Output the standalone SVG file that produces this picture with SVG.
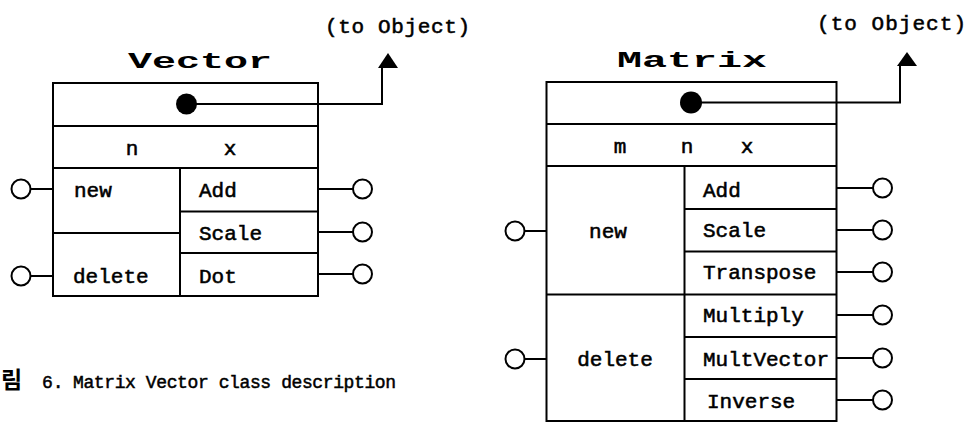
<svg xmlns="http://www.w3.org/2000/svg" width="972" height="423" viewBox="0 0 972 423">
  <style>
    .box { fill: none; stroke: #000; stroke-width: 2; }
    .ln { fill: none; stroke: #000; stroke-width: 2; }
    .port { fill: #fff; stroke: #000; stroke-width: 2; }
    .dot { fill: #000; }
    .arr { fill: #000; }
    .t { font-family: "Liberation Mono", "Noto Sans CJK KR", monospace; font-size: 21px; fill: #000; stroke: #000; stroke-width: 0.55; }
    .title { font-family: "Liberation Mono", monospace; font-size: 22px; font-weight: bold; fill: #000; }
    .cap { font-family: "Liberation Mono", "Noto Sans CJK KR", monospace; font-size: 18px; fill: #000; stroke: #000; stroke-width: 0.5; }
    .capk { font-family: "Noto Sans CJK KR", sans-serif; font-size: 23px; font-weight: bold; fill: #000; }
  </style>

  <!-- Vector class -->
  <g id="vector">
    <text class="title" x="128" y="68" textLength="144" lengthAdjust="spacingAndGlyphs">Vector</text>
    <rect class="box" x="53" y="83" width="265" height="213"/>
    <line class="ln" x1="53" y1="126" x2="318" y2="126"/>
    <line class="ln" x1="53" y1="168" x2="318" y2="168"/>
    <line class="ln" x1="180" y1="168" x2="180" y2="296"/>
    <line class="ln" x1="180" y1="211.5" x2="318" y2="211.5"/>
    <line class="ln" x1="180" y1="253" x2="318" y2="253"/>
    <line class="ln" x1="53" y1="233" x2="180" y2="233"/>
    <circle class="dot" cx="186.5" cy="104" r="10.5"/>
    <text class="t" x="132" y="155" text-anchor="middle">n</text>
    <text class="t" x="230" y="155" text-anchor="middle">x</text>
    <text class="t" x="74" y="197">new</text>
    <text class="t" x="73" y="283">delete</text>
    <text class="t" x="199" y="197">Add</text>
    <text class="t" x="199" y="240">Scale</text>
    <text class="t" x="199" y="283">Dot</text>
  </g>

  <!-- Matrix class -->
  <g id="matrix">
    <text class="title" x="617" y="67" textLength="150" lengthAdjust="spacingAndGlyphs">Matrix</text>
    <rect class="box" x="546.5" y="82" width="290" height="339"/>
    <line class="ln" x1="546.5" y1="124" x2="836.5" y2="124"/>
    <line class="ln" x1="546.5" y1="166" x2="836.5" y2="166"/>
    <line class="ln" x1="684.5" y1="166" x2="684.5" y2="421"/>
    <line class="ln" x1="684.5" y1="209" x2="836.5" y2="209"/>
    <line class="ln" x1="684.5" y1="251.5" x2="836.5" y2="251.5"/>
    <line class="ln" x1="546.5" y1="294.5" x2="836.5" y2="294.5"/>
    <line class="ln" x1="684.5" y1="337" x2="836.5" y2="337"/>
    <line class="ln" x1="684.5" y1="379" x2="836.5" y2="379"/>
    <circle class="dot" cx="691" cy="102.5" r="11"/>
    <text class="t" x="620" y="153" text-anchor="middle">m</text>
    <text class="t" x="687" y="153" text-anchor="middle">n</text>
    <text class="t" x="747" y="153" text-anchor="middle">x</text>
    <text class="t" x="608" y="238" text-anchor="middle">new</text>
    <text class="t" x="615" y="366" text-anchor="middle">delete</text>
    <text class="t" x="703" y="197">Add</text>
    <text class="t" x="703" y="237">Scale</text>
    <text class="t" x="703" y="279">Transpose</text>
    <text class="t" x="703" y="322">Multiply</text>
    <text class="t" x="703" y="366">MultVector</text>
    <text class="t" x="707" y="408">Inverse</text>
  </g>

  <!-- superclass labels -->
  <g id="vector-super">
    <text class="t" x="325" y="33" textLength="145">(to Object)</text>
    <polygon class="arr" points="378,68 398,68 388,53"/>
  </g>
  <g id="matrix-super">
    <text class="t" x="817" y="30" textLength="149">(to Object)</text>
    <polygon class="arr" points="897,66 917,66 907,52"/>
  </g>

  <!-- connectors: superclass links and method ports -->
  <g id="connectors">
    <polyline class="ln" points="196,104 382,104 382,68"/>
    <polyline class="ln" points="701,102.5 900,102.5 900,66"/>

    <line class="ln" x1="31" y1="189" x2="53" y2="189"/>
    <circle class="port" cx="21" cy="189" r="9.5"/>
    <line class="ln" x1="31" y1="276" x2="53" y2="276"/>
    <circle class="port" cx="21" cy="276" r="9.5"/>

    <line class="ln" x1="318" y1="189" x2="353" y2="189"/>
    <circle class="port" cx="362.5" cy="189" r="9.5"/>
    <line class="ln" x1="318" y1="232" x2="353" y2="232"/>
    <circle class="port" cx="362.5" cy="232" r="9.5"/>
    <line class="ln" x1="318" y1="274" x2="353" y2="274"/>
    <circle class="port" cx="362.5" cy="274" r="9.5"/>

    <line class="ln" x1="525" y1="231" x2="546.5" y2="231"/>
    <circle class="port" cx="515" cy="231" r="9.5"/>
    <line class="ln" x1="525" y1="359" x2="546.5" y2="359"/>
    <circle class="port" cx="515" cy="359" r="9.5"/>

    <line class="ln" x1="836.5" y1="188" x2="873" y2="188"/>
    <circle class="port" cx="882.5" cy="188" r="9.5"/>
    <line class="ln" x1="836.5" y1="230" x2="873" y2="230"/>
    <circle class="port" cx="882.5" cy="230" r="9.5"/>
    <line class="ln" x1="836.5" y1="272" x2="873" y2="272"/>
    <circle class="port" cx="882.5" cy="272" r="9.5"/>
    <line class="ln" x1="836.5" y1="315" x2="873" y2="315"/>
    <circle class="port" cx="882.5" cy="315" r="9.5"/>
    <line class="ln" x1="836.5" y1="358" x2="873" y2="358"/>
    <circle class="port" cx="882.5" cy="358" r="9.5"/>
    <line class="ln" x1="836.5" y1="400" x2="873" y2="400"/>
    <circle class="port" cx="882.5" cy="400" r="9.5"/>
  </g>

  <!-- figure caption -->
  <g id="caption">
    <text class="capk" x="1" y="388">림</text>
    <text class="cap" x="42" y="388">6.</text>
    <text class="cap" x="73" y="388" textLength="323">Matrix Vector class description</text>
  </g>
</svg>
